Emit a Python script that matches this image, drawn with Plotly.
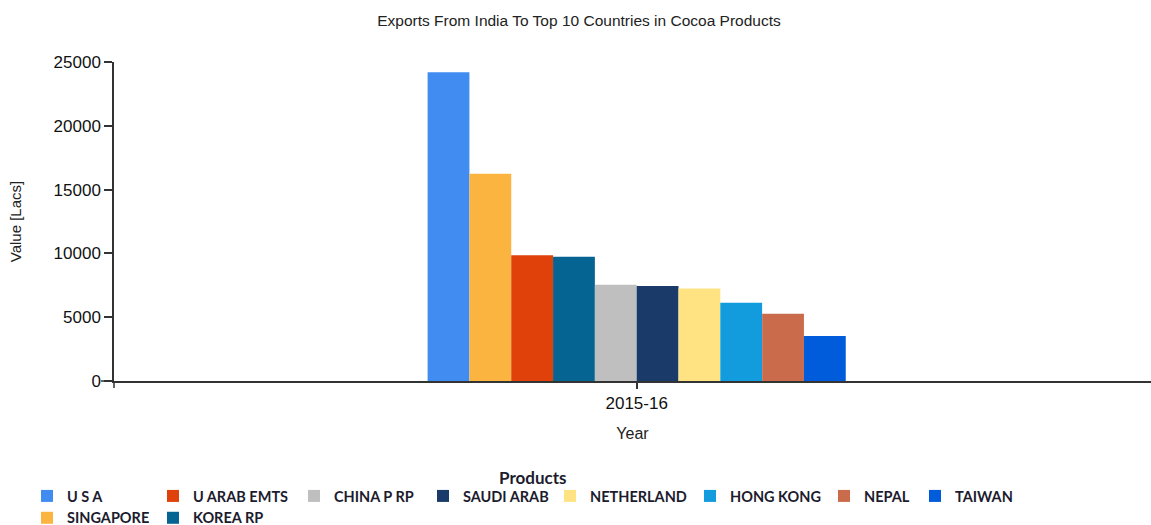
import plotly.graph_objects as go

year = ["2015-16"]
countries = ["U S A", "SINGAPORE", "U ARAB EMTS", "KOREA RP", "CHINA P RP",
             "SAUDI ARAB", "NETHERLAND", "HONG KONG", "NEPAL", "TAIWAN"]
values = [24200, 16250, 9850, 9740, 7550, 7440, 7240, 6140, 5280, 3530]

colors = ["#418CF0", "#FCB441", "#E0400A", "#056492", "#BFBFBF",
          "#1A3B69", "#FFE382", "#129CDD", "#CA6B4B", "#005CDB"]

# legend column each country belongs to, and pixel x of each column's text start
legend_col = [0, 0, 1, 1, 2, 3, 4, 5, 6, 7]
col_text_px = [67, 193, 334, 463, 590, 730, 864, 955]

W, H = 1151, 525
ML, MR, MT, MB = 114, 0, 62, 144
PW = W - ML - MR
PH = H - MT - MB


def px_to_paper_x(px):
    return (px - ML) / PW


def px_to_paper_y(py):
    return (H - MB - py) / PH


fig = go.Figure()
for i, (c, v) in enumerate(zip(countries, values)):
    lg = "legend" if legend_col[i] == 0 else f"legend{legend_col[i] + 1}"
    fig.add_trace(go.Bar(
        x=year, y=[v], name=c,
        marker=dict(color=colors[i], line=dict(width=0)),
        legend=lg,
    ))

legend_font = dict(family="Lato", size=14.5, color="#1c1c2e", weight="bold")
layout_legends = {}
for k, tx in enumerate(col_text_px):
    key = "legend" if k == 0 else f"legend{k + 1}"
    layout_legends[key] = dict(
        x=px_to_paper_x(tx - 40), xanchor="left",
        y=px_to_paper_y(480), yanchor="top",
        orientation="v", font=legend_font,
        bgcolor="rgba(0,0,0,0)", borderwidth=0,
        tracegroupgap=0, itemclick=False, itemdoubleclick=False,
    )

axis_color = "#333333"

fig.update_layout(
    width=W, height=H, autosize=False,
    margin=dict(l=ML, r=MR, t=MT, b=MB, pad=0, autoexpand=False),
    paper_bgcolor="white", plot_bgcolor="white",
    barmode="group", bargap=0.6, bargroupgap=0,
    showlegend=True,
    title=dict(
        text="Exports From India To Top 10 Countries in Cocoa Products",
        x=579 / W, xanchor="center", y=1 - 21 / H, yanchor="middle",
        font=dict(family="Liberation Sans", size=15.5, color="#222222"),
    ),
    xaxis=dict(
        type="category", range=[-0.5, 0.492],
        showline=True, linecolor=axis_color, linewidth=1.5,
        ticks="outside", ticklen=6, tickcolor=axis_color, tickwidth=1.5,
        showgrid=False, zeroline=False,
        tickfont=dict(family="Liberation Sans", size=17, color="#111111"),
        title=dict(text="Year", standoff=16,
                   font=dict(family="Liberation Sans", size=16, color="#222222")),
    ),
    yaxis=dict(
        range=[0, 25000], tickvals=[0, 5000, 10000, 15000, 20000, 25000],
        tickformat="d",
        showline=True, linecolor=axis_color, linewidth=1.5,
        ticks="outside", ticklen=8, tickcolor=axis_color, tickwidth=1.5,
        showgrid=False, zeroline=False,
        tickfont=dict(family="Liberation Sans", size=17, color="#111111"),
        title=dict(text="Value [Lacs]", standoff=28,
                   font=dict(family="Liberation Sans", size=15, color="#222222")),
    ),
    shapes=[
        # y axis line continues a little below the x axis
        dict(type="line", xref="paper", yref="paper",
             x0=0, x1=0, y0=0, y1=-7 / PH,
             line=dict(color=axis_color, width=1.5)),
        # x axis line continues a little left of the y axis
        dict(type="line", xref="paper", yref="paper",
             x0=-13 / PW, x1=0, y0=0, y1=0,
             line=dict(color=axis_color, width=1.5)),
    ],
    annotations=[dict(
        text="<b>Products</b>", xref="paper", yref="paper",
        x=px_to_paper_x(532), y=px_to_paper_y(477),
        xanchor="center", yanchor="middle", showarrow=False,
        font=dict(family="Lato", size=17, color="#1c1c2e"),
    )],
    **layout_legends,
)

fig.write_html("out.html")
